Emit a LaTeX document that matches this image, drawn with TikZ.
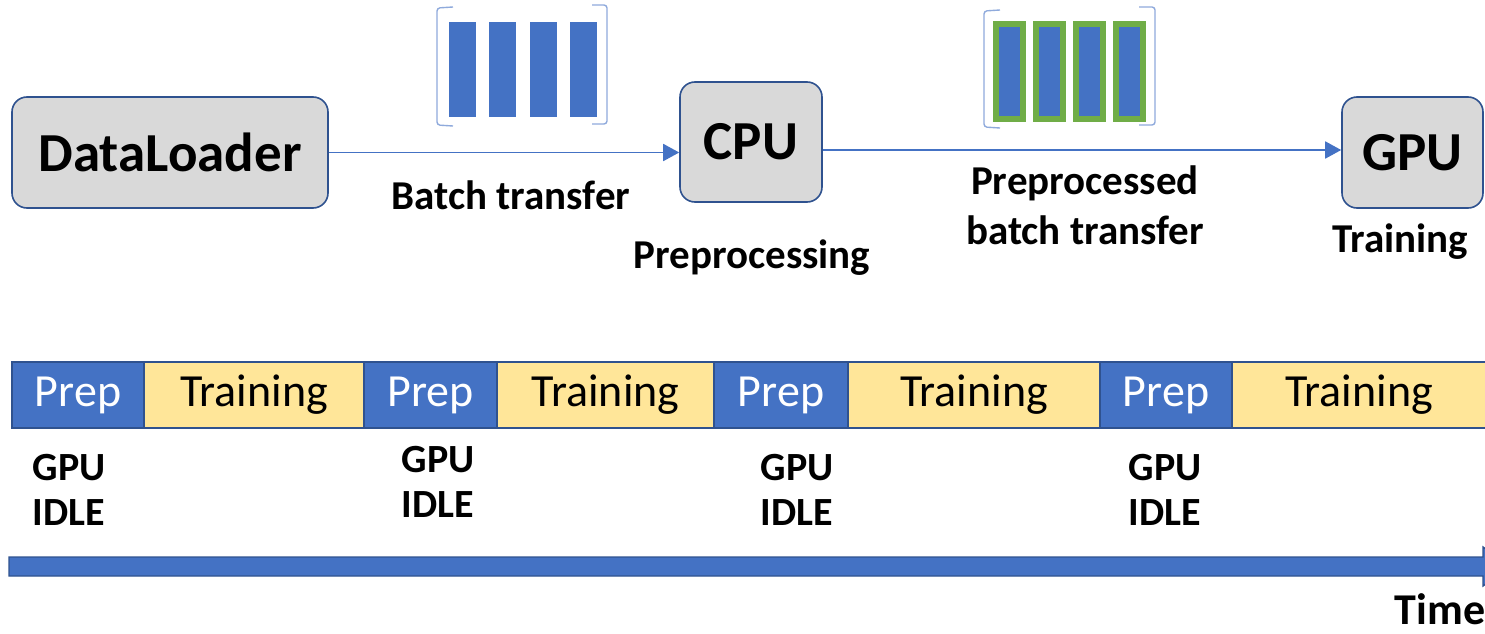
\documentclass[tikz,border=0pt]{standalone}
\usepackage{fontspec}
\setmainfont{Carlito}
\usetikzlibrary{arrows.meta}

\definecolor{barblue}{HTML}{4472C4}
\definecolor{navy}{HTML}{2F528F}
\definecolor{boxgray}{HTML}{D9D9D9}
\definecolor{trainyellow}{HTML}{FFE699}
\definecolor{prepgreen}{HTML}{70AD47}
\definecolor{brackblue}{HTML}{8FAADC}

\tikzset{
  unit/.style={draw=navy, line width=1.6pt, rounded corners=15pt, fill=boxgray, inner sep=0pt, font=\bfseries\fontsize{55}{60}\selectfont},
  flow/.style={draw=barblue, line width=1.8pt, -{Triangle[length=16pt,width=17pt]}},
  caption/.style={font=\bfseries\fontsize{41}{50}\selectfont, align=center},
  idle/.style={font=\bfseries\fontsize{40}{45}\selectfont, align=left},
  seg/.style={draw=navy, line width=1.4pt},
  bracket/.style={draw=brackblue, line width=1.4pt, rounded corners=3pt}
}

\begin{document}
\begin{tikzpicture}[x=1pt, y=-1pt]
\useasboundingbox (0,0) rectangle (1485,634);
\fill[white] (0,0) rectangle (1485,634);

% pipeline
\node[unit, minimum width=316pt, minimum height=111pt] (loader) at (170,152.5) {DataLoader};
\node[unit, minimum width=142pt, minimum height=120pt] (cpu) at (751,142) {CPU};
\node[unit, minimum width=141pt, minimum height=111pt] (gpu) at (1412.5,152.5) {GPU};

\draw[flow] (loader.east) -- (loader.east -| cpu.west);
\draw[flow] (cpu.east |- 0,150) -- (gpu.west |- 0,150);

\node[caption] (batchlbl) at (511,195) {Batch transfer};
\node[caption] (preplbl) at (752,258) {Preprocessing};
\node[caption] (prepbatchlbl) at (1085,205) {Preprocessed\\batch transfer};
\node[caption] (trainlbl) at (1400,242) {Training};

% raw batch
\draw[bracket] (453,7) -- (437,8) -- (437,125) -- (453,126);
\draw[bracket] (592,5) -- (607,5) -- (607,124) -- (592,124);
\foreach \x in {449,489,530,570}
  \fill[barblue] (\x,22) rectangle ++(27,95);

% preprocessed batch
\draw[bracket] (1000,10) -- (984,11) -- (984,127) -- (1000,128);
\draw[bracket] (1139,7) -- (1155,7) -- (1155,125) -- (1139,125);
\foreach \x in {993,1033,1073,1113}{
  \fill[prepgreen] (\x,21) rectangle ++(33,101);
  \fill[barblue] (\x+6,27) rectangle ++(21,89);
}

% timeline
\foreach \a/\b/\c/\t/\n in {12/144/barblue/white/1, 144/364/trainyellow/black/2,
    364/497/barblue/white/3, 497/714/trainyellow/black/4,
    714/848/barblue/white/5, 848/1100/trainyellow/black/6,
    1100/1232/barblue/white/7, 1232/1486/trainyellow/black/8}{
  \ifodd\n \def\txt{Prep}\else \def\txt{Training}\fi
  \draw[seg, fill=\c] (\a,362) rectangle (\b,428)
    node[midway, text=\t, font=\fontsize{46}{50}\selectfont] (seg\n) {\txt};
}

\node[idle] (idle1) at (69,490) {GPU\\IDLE};
\node[idle] (idle2) at (438,482) {GPU\\IDLE};
\node[idle] (idle3) at (797,490) {GPU\\IDLE};
\node[idle] (idle4) at (1165,490) {GPU\\IDLE};

% time axis
\draw[draw=navy, fill=barblue, line width=1.4pt] (9,557) -- (1483,557) -- (1483,547)
  -- (1510,566.5) -- (1483,586) -- (1483,576) -- (9,576) -- cycle;
\node[font=\bfseries\fontsize{44}{50}\selectfont, inner sep=1pt] (timelbl) at (1440,609) {Time};

\end{tikzpicture}
\end{document}
